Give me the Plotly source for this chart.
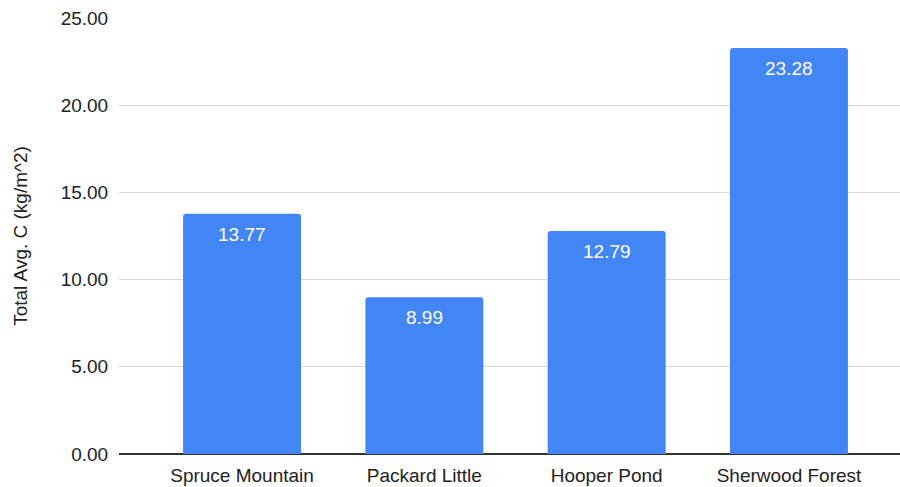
import plotly.graph_objects as go

categories = ["Spruce Mountain", "Packard Little", "Hooper Pond", "Sherwood Forest"]
values = [13.77, 8.99, 12.79, 23.28]
value_labels = ["13.77", "8.99", "12.79", "23.28"]
y_ticks = [0, 5, 10, 15, 20, 25]
y_tick_labels = ["0.00", "5.00", "10.00", "15.00", "20.00", "25.00"]

FONT = "Liberation Sans, Arial, sans-serif"
FS = 19

fig = go.Figure()
fig.add_trace(go.Bar(
    x=list(range(len(categories))),
    y=values,
    marker=dict(color="#4285F4", cornerradius=3, line=dict(width=0)),
    hoverinfo="skip",
))

for i, (v, lab) in enumerate(zip(values, value_labels)):
    fig.add_annotation(
        x=i, y=v, text=lab, showarrow=False,
        yanchor="top", xanchor="center", yshift=-8,
        font=dict(family=FONT, size=FS, color="white"),
    )

fig.update_layout(
    width=900, height=487,
    margin=dict(l=119, r=0, t=18, b=33),
    paper_bgcolor="white", plot_bgcolor="white",
    bargap=0.353,
    showlegend=False,
    font=dict(family=FONT, size=FS, color="#222222"),
    xaxis=dict(
        tickmode="array",
        tickvals=list(range(len(categories))),
        ticktext=categories,
        range=[-0.675, 3.609],
        showgrid=False,
        zeroline=False,
        showline=False,
        ticks="outside", ticklen=4, tickcolor="rgba(0,0,0,0)",
        tickfont=dict(family=FONT, size=FS, color="#222222"),
    ),
    yaxis=dict(
        range=[0, 25],
        tickmode="array",
        tickvals=y_ticks,
        ticktext=y_tick_labels,
        showgrid=True,
        gridcolor="#d9d9d9",
        gridwidth=1,
        zeroline=True,
        zerolinecolor="#333333",
        zerolinewidth=1.5,
        showline=False,
        ticks="outside", ticklen=6, tickcolor="rgba(0,0,0,0)",
        tickfont=dict(family=FONT, size=FS, color="#222222"),
        title=dict(text="Total Avg. C (kg/m^2)", font=dict(family=FONT, size=FS, color="#222222"), standoff=28),
    ),
)

fig.write_html("out.html")
